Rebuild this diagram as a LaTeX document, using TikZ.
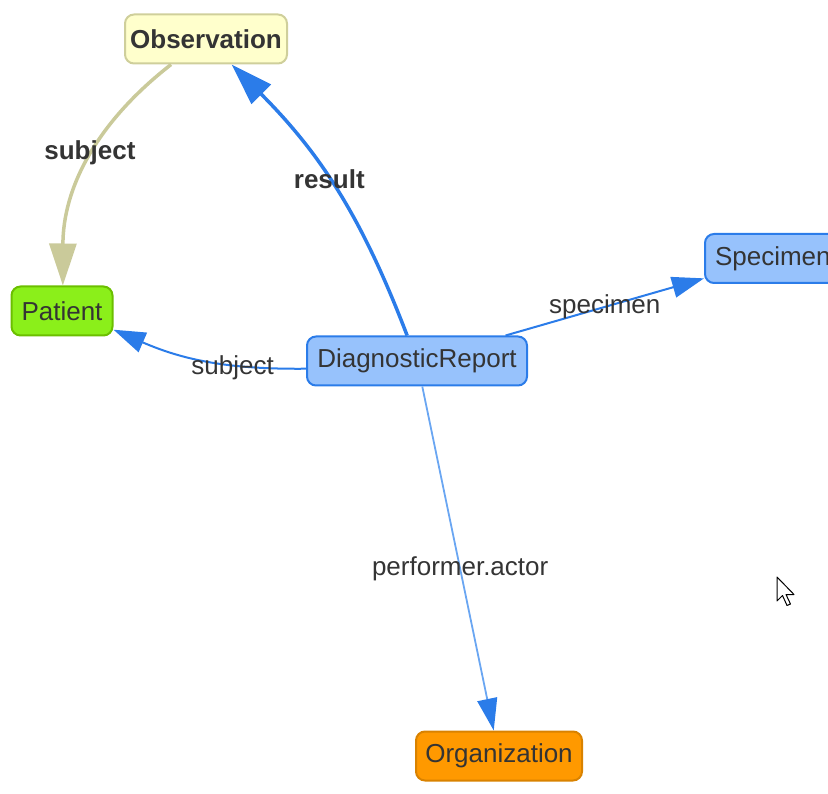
\documentclass[tikz,border=0pt]{standalone}
\usepackage{fontspec}
\setmainfont{Liberation Sans}
\usetikzlibrary{arrows.meta}

\definecolor{txt}{HTML}{343434}
\definecolor{visblue}{HTML}{2B7CE9}
\definecolor{visfill}{HTML}{97C2FC}
\definecolor{lightedge}{HTML}{6AA6F2}
\definecolor{khaki}{HTML}{CACA9A}
\definecolor{obsfill}{HTML}{FFFFCC}
\definecolor{obsborder}{HTML}{CFCF9B}
\definecolor{patfill}{HTML}{8BEF1A}
\definecolor{patborder}{HTML}{6BBF00}
\definecolor{orgfill}{HTML}{FF9900}
\definecolor{orgborder}{HTML}{D98200}

\tikzset{
  box/.style={draw, rounded corners=9pt, line width=2pt, inner sep=0pt,
    minimum height=49pt, text=txt, font=\fontsize{26}{31}\selectfont},
  resource/.style={box, fill=visfill, draw=visblue},
  lbl/.style={text=txt, inner sep=1pt, font=\fontsize{26}{31}\selectfont},
  boldlbl/.style={lbl, font=\fontsize{26}{31}\selectfont\bfseries},
  thinlink/.style={draw=visblue, line width=2pt,
    -{Triangle[length=32pt,width=21pt]}},
  thicklink/.style={line width=3.5pt,
    -{Triangle[length=42pt,width=27pt]}}
}

\begin{document}
\begin{tikzpicture}[x=1pt,y=-1pt]
\useasboundingbox (0,0) rectangle (828,794);
\clip (0,0) rectangle (828,794);

% resources
\node[box, fill=obsfill, draw=obsborder, minimum width=162pt,
      font=\fontsize{26}{31}\selectfont\bfseries] (obs) at (206,39) {Observation};
\node[box, fill=patfill, draw=patborder, minimum width=101pt] (pat) at (62,311) {Patient};
\node[resource, minimum width=220pt] (dr) at (417,361) {DiagnosticReport};
\node[resource, minimum width=136pt, text width=116pt, align=left]
      (spec) at (773,258.5) {Specimen};
\node[box, fill=orgfill, draw=orgborder, minimum width=166pt] (org) at (499,756) {Organization};

% references
\draw[thicklink, draw=khaki] (obs) to[bend right=26]
  node[boldlbl, pos=0.46, xshift=-3pt] {subject} (pat);
\draw[thicklink, draw=visblue] (dr) to[bend right=12]
  node[boldlbl, pos=0.54] {result} (obs);
\draw[thinlink] (dr) to[bend left=12]
  node[lbl, pos=0.36, yshift=-3pt] {subject} (pat);
\draw[thinlink] (dr) -- node[lbl, pos=0.5] {specimen} (spec);
\draw[draw=lightedge, line width=1.8pt,
      -{Triangle[length=32pt,width=20pt,color=visblue]}] (dr) --
  node[lbl, pos=0.53] {performer.actor} (org);

% mouse pointer
\draw[black, line width=1pt, fill=white, line join=round]
  (777,577) -- ++(0,24) -- ++(5.5,-5.5) -- ++(4.5,10) -- ++(3.5,-1.5)
  -- ++(-4.5,-9.5) -- ++(8,0) -- cycle;
\end{tikzpicture}
\end{document}
